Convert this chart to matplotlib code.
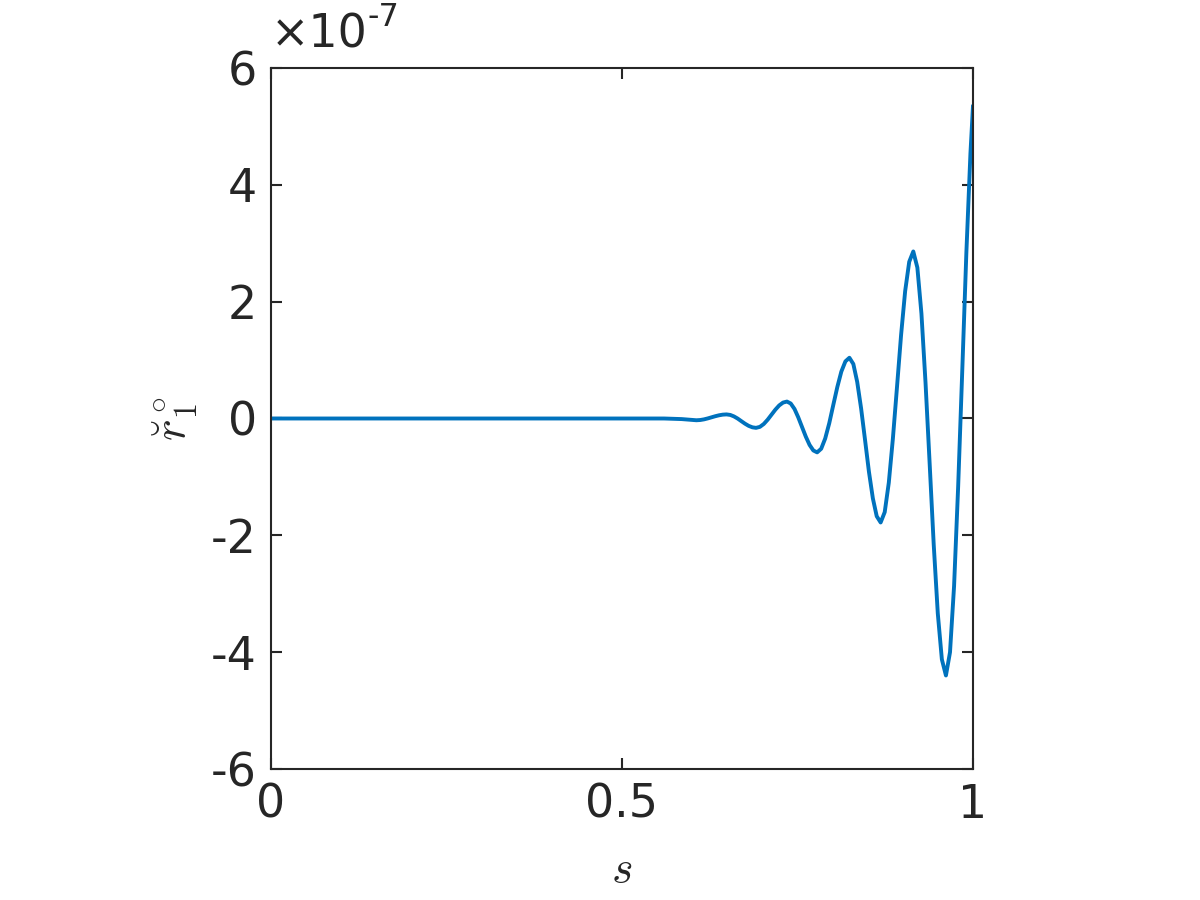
import numpy as np
import matplotlib
matplotlib.use("Agg")
import matplotlib.pyplot as plt

plt.rcParams['mathtext.fontset'] = 'cm'
plt.rcParams['font.family'] = ['DejaVu Sans']

# curve, values in units of 1e-7
s_vals = [0.0, 0.1, 0.2, 0.3, 0.4, 0.5, 0.56, 0.585, 0.606,
          0.6114, 0.6168, 0.6221, 0.6275, 0.6329, 0.6383, 0.6436, 0.649,
          0.6543, 0.6595, 0.6648, 0.67, 0.6753, 0.6805, 0.6858, 0.691,
          0.6965, 0.702, 0.7075, 0.713, 0.7185, 0.724, 0.7295, 0.735,
          0.7404, 0.7458, 0.7511, 0.7565, 0.7619, 0.7673, 0.7726, 0.778,
          0.7838, 0.7895, 0.7953, 0.801, 0.8068, 0.8125, 0.8183, 0.824,
          0.8296, 0.8351, 0.8407, 0.8463, 0.8518, 0.8574, 0.8629, 0.8685,
          0.8743, 0.8801, 0.8859, 0.8918, 0.8976, 0.9034, 0.9092, 0.915,
          0.9208, 0.9266, 0.9324, 0.9383, 0.9441, 0.9499, 0.9557, 0.9615,
          0.9673, 0.9731, 0.9789, 0.9848, 0.9906, 0.9964, 1.0]
r1_vals = [0.0, 0.0, 0.0, 0.0, 0.0, 0.0, 0.0, -0.01, -0.03,
           -0.026, -0.015, 0.001, 0.02, 0.039, 0.055, 0.066, 0.07,
           0.061, 0.036, -0.001, -0.045, -0.089, -0.126, -0.151, -0.16,
           -0.143, -0.094, -0.021, 0.065, 0.151, 0.224, 0.273, 0.29,
           0.257, 0.163, 0.021, -0.145, -0.311, -0.453, -0.547, -0.58,
           -0.518, -0.343, -0.08, 0.23, 0.54, 0.803, 0.978, 1.04,
           0.933, 0.627, 0.17, -0.37, -0.91, -1.367, -1.673, -1.78,
           -1.603, -1.1, -0.348, 0.54, 1.428, 2.18, 2.683, 2.86,
           2.584, 1.797, 0.619, -0.77, -2.159, -3.337, -4.124, -4.4,
           -4.002, -2.867, -1.168, 0.835, 2.838, 4.537, 5.34]

xticks = [0, 0.5, 1]
xtick_labels = ['0', '0.5', '1']
yticks = [-6, -4, -2, 0, 2, 4, 6]
ytick_labels = ['-6', '-4', '-2', '0', '2', '4', '6']

fig = plt.figure(figsize=(12, 9), dpi=100)
ax = fig.add_axes([0.2258, 0.1456, 0.585, 0.7788])

ax.plot(s_vals, r1_vals, color=(0, 0.447, 0.741), linewidth=2.8,
        solid_joinstyle='round')

ax.set_xlim(0, 1)
ax.set_ylim(-6, 6)
ax.set_xticks(xticks)
ax.set_xticklabels(xtick_labels)
ax.set_yticks(yticks)
ax.set_yticklabels(ytick_labels)

dark = '#262626'
for sp in ax.spines.values():
    sp.set_linewidth(1.5)
    sp.set_color(dark)
ax.tick_params(direction='in', length=8, width=1.5, colors=dark,
               labelsize=33, top=True, right=True, pad=10)

ax.set_xlabel(r'$s$', fontsize=33, color=dark, labelpad=14)
ax.set_ylabel(r'$\breve{r}_1^\circ$', fontsize=33, color=dark, labelpad=8)

# exponent label like MATLAB
ax.text(0.0, 1.015, '\u00d710', transform=ax.transAxes, fontsize=33,
        color=dark, ha='left', va='bottom')
ax.text(0.137, 1.05, '-7', transform=ax.transAxes, fontsize=23,
        color=dark, ha='left', va='bottom')

fig.savefig('out.png', dpi=100)
